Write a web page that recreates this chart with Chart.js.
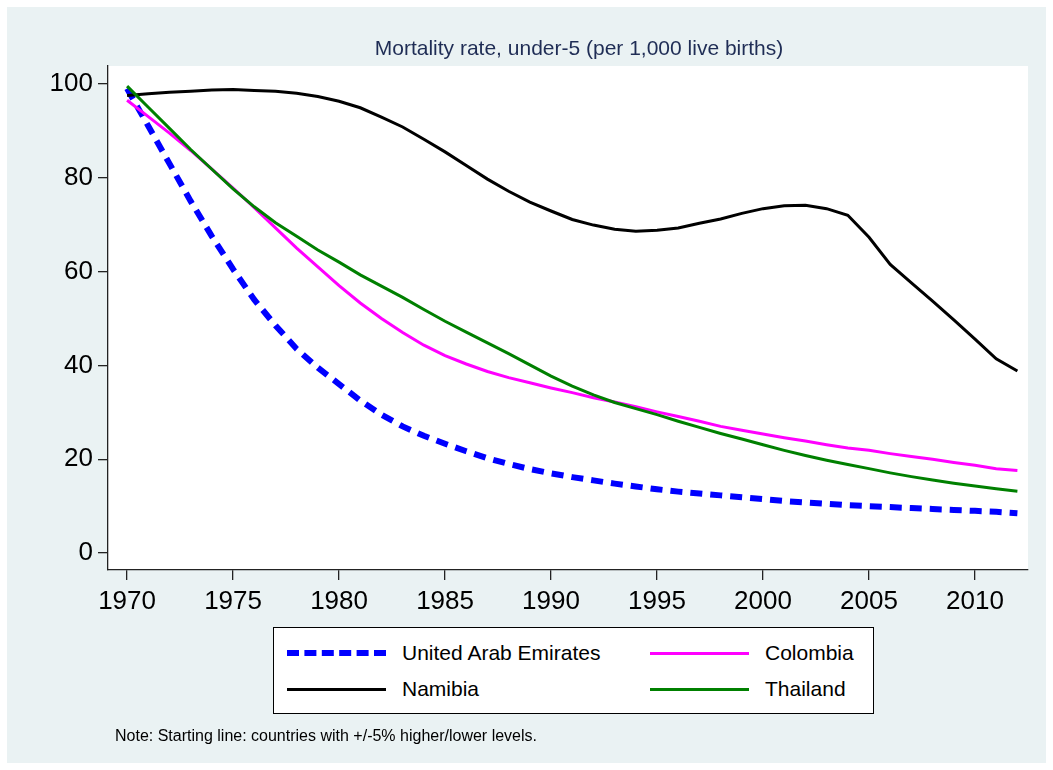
<!DOCTYPE html>
<html>
<head>
<meta charset="utf-8">
<script src="https://cdn.jsdelivr.net/npm/chart.js@4"></script>
<style>
    body { margin: 0; background: #fff; font-family: "Liberation Sans", Arial, sans-serif; }
    #pagina { position: relative; width: 1053px; height: 770px; background: #fff; overflow: hidden; }
    #fondo { position: absolute; left: 7px; top: 7px; width: 1039px; height: 756px; background: #EAF2F3; }
    #grafico { position: absolute; left: 0; top: 0; }
    #titulo { position: absolute; left: 0; width: 1158px; top: 36px; text-align: center; font-size: 21px; color: #1f2d55; }
    #leyenda { position: absolute; left: 273px; top: 627px; width: 599px; height: 85px; background: #fff; border: 1px solid #000; }
    .item { position: absolute; font-size: 21px; color: #000; line-height: 24px; }
    .muestra { position: absolute; width: 99px; height: 0; }
    #nota { position: absolute; left: 115px; top: 727px; font-size: 16px; color: #000; }
</style>
</head>
<body>
<div id="pagina">
    <div id="fondo"></div>
    <canvas id="grafico" width="1053" height="770"></canvas>
    <div id="titulo">Mortality rate, under-5 (per 1,000 live births)</div>
    <div id="leyenda">
        <div class="muestra" style="left:13px; top:22px; border-top:6px dashed #0000FF;"></div>
        <div class="item" style="left:128px; top:13px;">United Arab Emirates</div>
        <div class="muestra" style="left:376px; top:24px; border-top:3px solid #FF00FF;"></div>
        <div class="item" style="left:491px; top:13px;">Colombia</div>
        <div class="muestra" style="left:13px; top:60px; border-top:3px solid #000;"></div>
        <div class="item" style="left:128px; top:49px;">Namibia</div>
        <div class="muestra" style="left:376px; top:60px; border-top:3px solid #008000;"></div>
        <div class="item" style="left:491px; top:49px;">Thailand</div>
    </div>
    <div id="nota">Note: Starting line: countries with +/-5% higher/lower levels.</div>
</div>
<script>
// Datos del gráfico
const anios = [1970, 1971, 1972, 1973, 1974, 1975, 1976, 1977, 1978, 1979,
    1980, 1981, 1982, 1983, 1984, 1985, 1986, 1987, 1988, 1989,
    1990, 1991, 1992, 1993, 1994, 1995, 1996, 1997, 1998, 1999,
    2000, 2001, 2002, 2003, 2004, 2005, 2006, 2007, 2008, 2009,
    2010, 2011, 2012];

const emiratos = [99, 91, 83, 75, 67.5, 60.5, 54, 48.5, 43.5, 39.5,
    36, 32.5, 29.5, 27, 25, 23.3, 21.7, 20.2, 19, 17.9,
    17, 16.2, 15.5, 14.8, 14.2, 13.6, 13.1, 12.7, 12.3, 11.9,
    11.5, 11.1, 10.8, 10.5, 10.2, 10, 9.8, 9.6, 9.4, 9.2,
    9.0, 8.8, 8.5];

const namibia = [97.5, 97.9, 98.2, 98.4, 98.7, 98.8, 98.6, 98.4, 98.0, 97.3,
    96.3, 94.9, 92.9, 90.8, 88.2, 85.5, 82.6, 79.7, 77.1, 74.8,
    72.9, 71.1, 69.9, 69.0, 68.6, 68.8, 69.3, 70.3, 71.2, 72.4,
    73.4, 74.0, 74.1, 73.4, 72.0, 67.3, 61.5, 57.6, 53.7, 49.7,
    45.6, 41.4, 38.8];

const colombia = [96.5, 93, 89.5, 85.8, 81.8, 77.8, 73.6, 69.3, 65, 61,
    57, 53.3, 50, 47, 44.3, 42.1, 40.3, 38.7, 37.4, 36.3,
    35.2, 34.2, 33.1, 32.2, 31.2, 30.1, 29.1, 28.1, 27.0, 26.2,
    25.4, 24.6, 23.9, 23.1, 22.4, 21.9, 21.2, 20.6, 20.0, 19.3,
    18.7, 18.0, 17.6];

const tailandia = [99.5, 95, 90.5, 86, 81.8, 77.6, 73.8, 70.4, 67.5, 64.6,
    62, 59.3, 56.9, 54.5, 51.9, 49.4, 47.1, 44.8, 42.5, 40.1,
    37.7, 35.6, 33.7, 32.1, 30.8, 29.5, 28.1, 26.8, 25.5, 24.3,
    23.1, 21.9, 20.8, 19.8, 18.9, 18.0, 17.1, 16.3, 15.6, 14.9,
    14.3, 13.7, 13.2];

const ticksX = [1970, 1975, 1980, 1985, 1990, 1995, 2000, 2005, 2010];
const ticksY = [0, 20, 40, 60, 80, 100];

const fuente = '"Liberation Sans", Arial, sans-serif';

function puntos(valores) {
    return anios.map((a, i) => ({ x: a, y: valores[i] }));
}

// Fondo blanco del área de trazado
const fondoBlanco = {
    id: 'fondoBlanco',
    beforeDraw(chart) {
        const { ctx, chartArea } = chart;
        ctx.save();
        ctx.fillStyle = '#fff';
        ctx.fillRect(chartArea.left, chartArea.top, chartArea.right - chartArea.left, chartArea.bottom - chartArea.top);
        ctx.restore();
    }
};

const ctx = document.getElementById('grafico').getContext('2d');
new Chart(ctx, {
    type: 'line',
    data: {
        datasets: [
            { label: 'United Arab Emirates', data: puntos(emiratos), borderColor: '#0000FF', borderWidth: 6, borderDash: [12, 8], order: 4 },
            { label: 'Colombia', data: puntos(colombia), borderColor: '#FF00FF', borderWidth: 3, order: 2 },
            { label: 'Namibia', data: puntos(namibia), borderColor: '#000000', borderWidth: 3, order: 3 },
            { label: 'Thailand', data: puntos(tailandia), borderColor: '#008000', borderWidth: 3, order: 1 }
        ]
    },
    options: {
        responsive: false,
        animation: false,
        devicePixelRatio: 1,
        elements: { point: { radius: 0 }, line: { tension: 0, borderCapStyle: 'butt' } },
        layout: { padding: { left: 0, top: 66, right: 25, bottom: 150 } },
        plugins: { legend: { display: false }, title: { display: false }, tooltip: { enabled: false } },
        scales: {
            x: {
                type: 'linear',
                min: 1969.1,
                max: 2012.5,
                afterBuildTicks: axis => { axis.ticks = ticksX.map(v => ({ value: v })); },
                afterFit: axis => { axis.height = 50; },
                grid: { drawOnChartArea: false, drawTicks: true, tickLength: 10, color: '#222', lineWidth: 1.3 },
                border: { display: true, color: '#222', width: 1.3 },
                ticks: { color: '#000', font: { family: fuente, size: 26 }, padding: 6, maxRotation: 0, callback: v => String(v) }
            },
            y: {
                min: -3.6,
                max: 103.8,
                afterBuildTicks: axis => { axis.ticks = ticksY.map(v => ({ value: v })); },
                afterFit: axis => { axis.width = 108; },
                grid: { drawOnChartArea: false, drawTicks: true, tickLength: 10, color: '#222', lineWidth: 1.3 },
                border: { display: true, color: '#222', width: 1.3 },
                ticks: { color: '#000', font: { family: fuente, size: 26 }, padding: 5 }
            }
        }
    },
    plugins: [fondoBlanco]
});
</script>
</body>
</html>
